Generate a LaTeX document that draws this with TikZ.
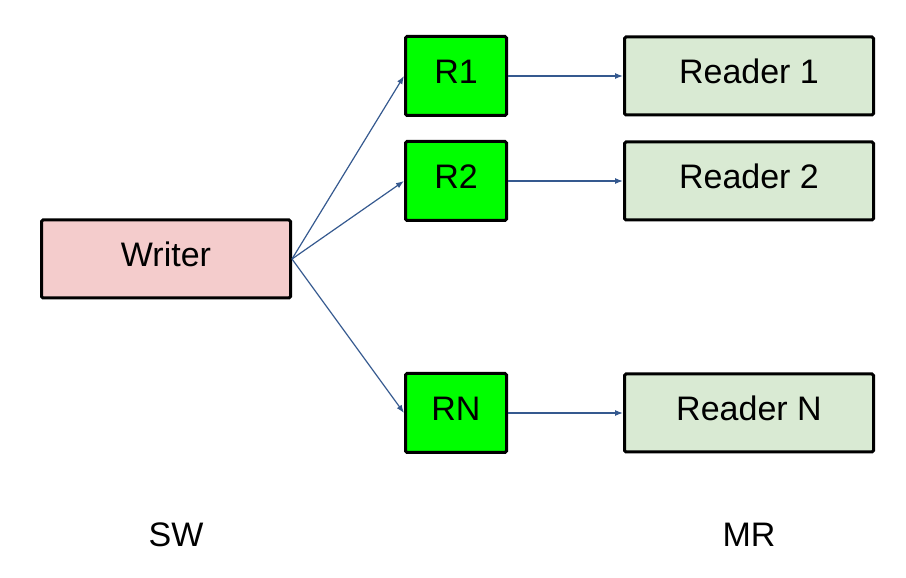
\documentclass[tikz,border=0pt]{standalone}
\usepackage{fontspec}
\setmainfont{Liberation Sans}
\usetikzlibrary{arrows.meta,positioning}
\definecolor{writerpink}{HTML}{F4CCCC}
\definecolor{ringgreen}{HTML}{00FF00}
\definecolor{readergreen}{HTML}{D9EAD3}
\definecolor{linkblue}{HTML}{35598F}
\tikzset{>/.tip={Latex[length=8pt,width=6pt]}}
\tikzset{
  box/.style={draw=black,line width=3pt,rounded corners=1.5pt,
    font=\fontsize{34}{40}\selectfont,inner sep=0pt,
    text height=24pt,text depth=8pt},
  wbox/.style={box,fill=writerpink,minimum width=249pt,minimum height=78pt},
  rbox/.style={box,fill=ringgreen,minimum width=101pt,minimum height=79pt},
  readbox/.style={box,fill=readergreen,minimum width=249pt,minimum height=78pt},
  link/.style={->,draw=linkblue,line width=1.2pt},
  caption/.style={font=\fontsize{34}{40}\selectfont}
}
\begin{document}
\begin{tikzpicture}[x=1pt,y=1pt]
      \useasboundingbox (0,0) rectangle (906,578);
      \node[wbox](Writer) at (166,319){Writer};
      \node[rbox](R1) at (456,502){R1};
      \node[rbox,below=23pt of R1](R2){R2};
      \node[rbox,below=150pt of R2](RN){RN};
      \node[readbox,right=115pt of R1](Reader1){Reader 1};
      \node[readbox,right=115pt of R2](Reader2){Reader 2};
      \node[readbox,right=115pt of RN](ReaderN){Reader N};

      \node[caption](SW) at (176,43){SW};
      \node[caption](MR) at (749,43){MR};

      \draw[link] (Writer.east) -- (R1.west);
      \draw[link] (Writer.east) -- (R2.west);
      \draw[link] (Writer.east) -- (RN.west);
      \draw[link] (R1) -- (Reader1);
      \draw[link] (R2) -- (Reader2);
      \draw[link] (RN) -- (ReaderN);
    \end{tikzpicture}
\end{document}
